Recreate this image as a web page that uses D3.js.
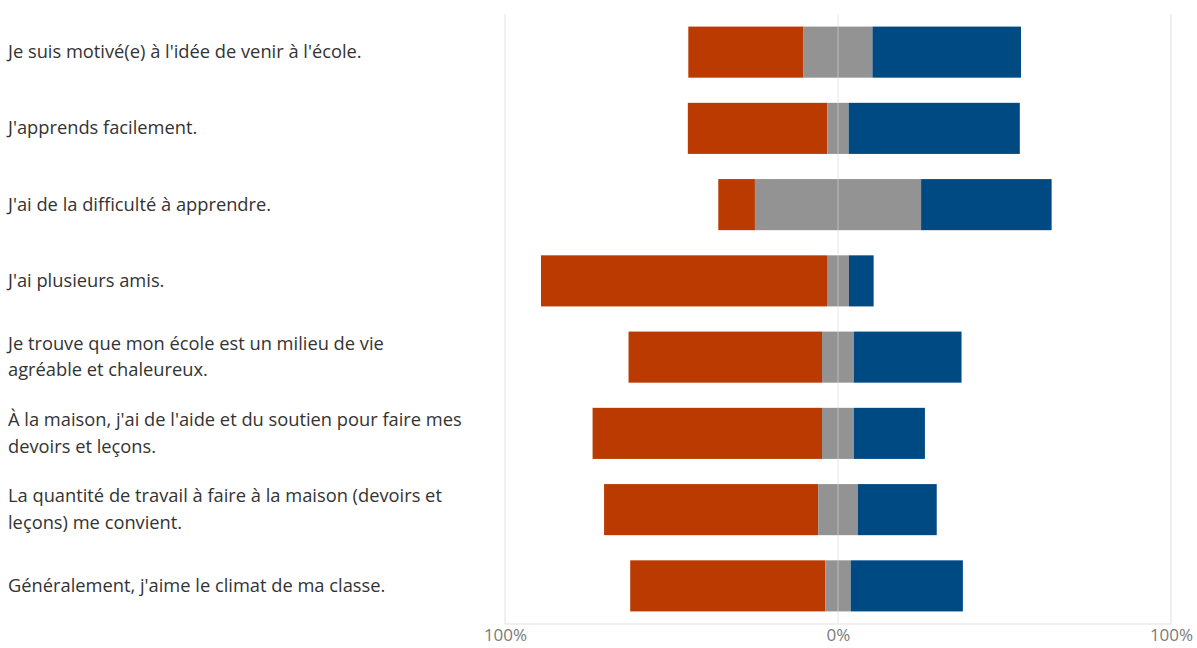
<!DOCTYPE html>
<html>
  <head>
    <meta charset="utf-8">
    <title>Likert</title>
    <script src="https://cdn.jsdelivr.net/npm/d3@7"></script>
    <style>
      body { margin: 0; background: #fff; }
      text { font-family: "Segoe UI", "Open Sans", sans-serif; }
    </style>
  </head>
  <body>
    <svg width="1197" height="648" id="mainsvg"></svg>
    <script>
      // énoncés (les \n marquent les retours à la ligne)
      const questions = [
        "Je suis motivé(e) à l'idée de venir à l'école.",
        "J'apprends facilement.",
        "J'ai de la difficulté à apprendre.",
        "J'ai plusieurs amis.",
        "Je trouve que mon école est un milieu de vie\nagréable et chaleureux.",
        "À la maison, j'ai de l'aide et du soutien pour faire mes\ndevoirs et leçons.",
        "La quantité de travail à faire à la maison (devoirs et\nleçons) me convient.",
        "Généralement, j'aime le climat de ma classe."
      ];
      // pourcentages par réponse
      const negative = [34.6, 41.9, 11.0, 85.9, 58.1, 68.9, 64.3, 58.6];
      const neutral  = [20.7,  6.4, 49.9,  6.6,  9.6,  9.6, 11.9,  7.6];
      const positive = [44.6, 51.4, 39.2,  7.4, 32.3, 21.3, 23.7, 33.7];
      const tickVals = [-1, 0, 1];

      const colors = {neg: '#ba3a02', neu: '#939393', pos: '#004a84'};

      const svg = d3.select('#mainsvg');
      const x = d3.scaleLinear().domain([-1, 1]).range([505, 1171]);
      const y = d3.scaleBand().domain(d3.range(questions.length))
        .range([14, 624]).paddingInner(0.33).paddingOuter(0.165);

      // grille
      svg.append('g').selectAll('line').data(tickVals).join('line')
        .attr('x1', d => x(d)).attr('x2', d => x(d))
        .attr('y1', 14).attr('y2', 624)
        .attr('stroke', '#e1e1e1').attr('stroke-width', 1);
      svg.append('line')
        .attr('x1', x(-1)).attr('x2', x(1)).attr('y1', 624).attr('y2', 624)
        .attr('stroke', '#e1e1e1');

      // segments : rouge à gauche, gris centré sur 0, bleu à droite
      const segs = [];
      questions.forEach((q, i) => {
        const n0 = -neutral[i] / 200;
        segs.push({i, k: 'neg', x0: n0 - negative[i] / 100, x1: n0});
        segs.push({i, k: 'neu', x0: n0, x1: -n0});
        segs.push({i, k: 'pos', x0: -n0, x1: -n0 + positive[i] / 100});
      });

      svg.append('g').selectAll('rect').data(segs).join('rect')
        .attr('x', d => x(d.x0))
        .attr('width', d => x(d.x1) - x(d.x0))
        .attr('y', d => y(d.i))
        .attr('height', y.bandwidth())
        .attr('fill', d => colors[d.k]);

      // ligne du zéro par-dessus
      svg.append('line')
        .attr('x1', x(0)).attr('x2', x(0)).attr('y1', 14).attr('y2', 624)
        .attr('stroke', '#fff').attr('stroke-opacity', 0.4);

      // étiquettes des énoncés
      const lab = svg.append('g').selectAll('text').data(questions).join('text')
        .attr('x', 8)
        .attr('y', (d, i) => y(i) + y.bandwidth() / 2)
        .attr('font-size', 18.3)
        .attr('fill', '#333');
      lab.each(function(d) {
        const lines = d.split('\n');
        const t = d3.select(this);
        lines.forEach((l, j) => {
          t.append('tspan').attr('x', 8)
            .attr('dy', j === 0 ? ((-(lines.length - 1) * 26.5) / 2 + 6) : 26.5)
            .text(l);
        });
      });

      // axe du bas
      const ax = svg.append('g').attr('transform', 'translate(0,624)')
        .call(d3.axisBottom(x).tickValues(tickVals).tickSize(0).tickPadding(5)
          .tickFormat(d => Math.abs(d) * 100 + '%'));
      ax.select('.domain').remove();
      ax.selectAll('text').attr('font-size', 17).attr('fill', '#7a7a7a')
        .style('font-family', '"Segoe UI", "Open Sans", sans-serif');
    </script>
  </body>
</html>
